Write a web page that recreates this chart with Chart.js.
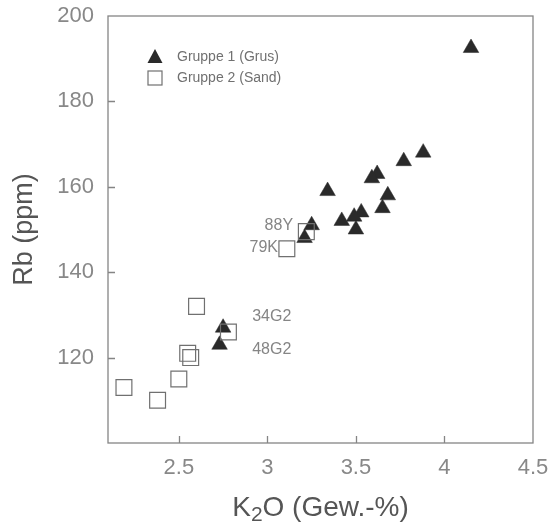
<!DOCTYPE html>
<html>
<head>
<meta charset="utf-8">
<script src="https://cdn.jsdelivr.net/npm/chart.js@4.4.0/dist/chart.umd.min.js"></script>
<style>
  html, body { margin: 0; padding: 0; background: #fff; }
</style>
</head>
<body>
<canvas id="grafico" width="558" height="525"></canvas>
<script>
// Gruppe 1 (Grus) - Dreiecke
const grusK2O = [4.15, 3.88, 3.77, 3.62, 3.59, 3.34, 3.68, 3.65, 3.53, 3.49, 3.42, 3.50, 3.25, 3.21, 2.75, 2.73];
const grusRb  = [192.5, 168, 166, 163, 162, 159, 158, 155, 154, 153, 152, 150, 151, 148, 127, 123];

// Gruppe 2 (Sand) - Quadrate
const sandK2O = [3.22, 3.11, 2.60, 2.78, 2.55, 2.567, 2.50, 2.19, 2.38];
const sandRb  = [149.5, 145.5, 132, 126, 121, 120, 115, 113, 110];

// Probenbezeichnungen
const probeText  = ['88Y', '79K', '34G2', '48G2'];
const probeK2O   = [3.145, 3.06, 2.914, 2.914];
const probeRb    = [150.8, 145.7, 129.6, 121.8];
const probeAlign = ['right', 'right', 'left', 'left'];

const xTicks = [2.5, 3, 3.5, 4, 4.5];
const yTicks = [120, 140, 160, 180, 200];

const legendText = ['Gruppe 1 (Grus)', 'Gruppe 2 (Sand)'];
// titulo eje x en partes para el subindice: K, 2, O (Gew.-%)
const xTitulo = ['K', '2', 'O (Gew.-%)'];

const fuente = 'Liberation Sans, Arial, sans-serif';

function puntos(xs, ys) {
    return xs.map((x, i) => ({ x: x, y: ys[i] }));
}

// marco, ticks hacia adentro, leyenda, etiquetas y titulo x
const marcoPlugin = {
    id: 'marco',
    beforeDatasetsDraw(chart) {
        const { ctx, chartArea: a, scales } = chart;
        ctx.save();
        ctx.strokeStyle = '#858585';
        ctx.lineWidth = 1.3;
        ctx.strokeRect(a.left, a.top, a.right - a.left, a.bottom - a.top);
        ctx.beginPath();
        yTicks.forEach(v => {
            if (v >= scales.y.max) return;
            const py = Math.round(scales.y.getPixelForValue(v)) + 0.5;
            ctx.moveTo(a.left, py);
            ctx.lineTo(a.left + 7, py);
        });
        xTicks.forEach(v => {
            if (v >= scales.x.max) return;
            const px = Math.round(scales.x.getPixelForValue(v)) + 0.5;
            ctx.moveTo(px, a.bottom);
            ctx.lineTo(px, a.bottom - 7);
        });
        ctx.stroke();
        ctx.restore();
    },
    afterDraw(chart) {
        const { ctx, chartArea: a, scales } = chart;
        ctx.save();
        // etiquetas de muestras
        ctx.font = '16px ' + fuente;
        ctx.fillStyle = '#858585';
        ctx.textBaseline = 'middle';
        probeText.forEach((t, i) => {
            ctx.textAlign = probeAlign[i];
            ctx.fillText(t, scales.x.getPixelForValue(probeK2O[i]), scales.y.getPixelForValue(probeRb[i]));
        });
        // leyenda
        const lx = a.left + 47;
        const ly = a.top + 41;
        ctx.fillStyle = '#2a2a2a';
        ctx.beginPath();
        ctx.moveTo(lx, ly - 8);
        ctx.lineTo(lx + 7.5, ly + 6);
        ctx.lineTo(lx - 7.5, ly + 6);
        ctx.closePath();
        ctx.fill();
        ctx.strokeStyle = '#707070';
        ctx.lineWidth = 1.2;
        ctx.strokeRect(lx - 7, ly + 14, 14, 14);
        ctx.font = '14px ' + fuente;
        ctx.fillStyle = '#707070';
        ctx.textAlign = 'left';
        ctx.fillText(legendText[0], lx + 22, ly);
        ctx.fillText(legendText[1], lx + 22, ly + 21);

        // titulo eje x con subindice
        const fGrande = '28px ' + fuente;
        const fChico = '21px ' + fuente;
        ctx.font = fGrande;
        const w1 = ctx.measureText(xTitulo[0]).width;
        const w3 = ctx.measureText(xTitulo[2]).width;
        ctx.font = fChico;
        const w2 = ctx.measureText(xTitulo[1]).width;
        const total = w1 + w2 + w3;
        let tx = (a.left + a.right) / 2 - total / 2;
        const ty = 516;
        ctx.fillStyle = '#555';
        ctx.textBaseline = 'alphabetic';
        ctx.font = fGrande;
        ctx.fillText(xTitulo[0], tx, ty);
        tx += w1;
        ctx.font = fChico;
        ctx.fillText(xTitulo[1], tx, ty + 5);
        tx += w2;
        ctx.font = fGrande;
        ctx.fillText(xTitulo[2], tx, ty);
        ctx.restore();
    }
};

const config = {
    type: 'scatter',
    data: {
        datasets: [
            {
                label: legendText[1],
                data: puntos(sandK2O, sandRb),
                pointStyle: 'rect',
                pointRadius: 11.2,
                pointHoverRadius: 11.2,
                borderColor: '#707070',
                borderWidth: 1.2,
                backgroundColor: 'rgba(0,0,0,0)',
                clip: false
            },
            {
                label: legendText[0],
                data: puntos(grusK2O, grusRb),
                pointStyle: 'triangle',
                pointRadius: 9,
                pointHoverRadius: 9,
                borderColor: '#2a2a2a',
                borderWidth: 0.5,
                backgroundColor: '#2a2a2a',
                clip: false
            }
        ]
    },
    options: {
        responsive: false,
        animation: false,
        layout: { padding: { left: 0, right: 25, top: 16, bottom: 0 } },
        plugins: {
            legend: { display: false },
            tooltip: { enabled: false }
        },
        scales: {
            x: {
                type: 'linear',
                min: 2.1,
                max: 4.5,
                afterBuildTicks: s => { s.ticks = xTicks.map(v => ({ value: v })); },
                afterFit: s => { s.height = 82; s.paddingLeft = 0; s.paddingRight = 0; },
                grid: { display: false, drawTicks: false },
                border: { display: false },
                ticks: {
                    padding: 12,
                    color: '#888',
                    font: { family: fuente, size: 22 },
                    callback: v => String(v)
                },
                title: { display: false }
            },
            y: {
                type: 'linear',
                min: 100,
                max: 200,
                afterBuildTicks: s => { s.ticks = yTicks.map(v => ({ value: v })); },
                afterFit: s => { s.width = 108; s.paddingTop = 0; s.paddingBottom = 0; },
                grid: { display: false, drawTicks: false },
                border: { display: false },
                ticks: {
                    padding: 14,
                    color: '#888',
                    font: { family: fuente, size: 22 }
                },
                title: {
                    display: true,
                    text: 'Rb (ppm)',
                    color: '#555',
                    font: { family: fuente, size: 27 },
                    padding: { top: 8, bottom: 0 }
                }
            }
        }
    },
    plugins: [marcoPlugin]
};

new Chart(document.getElementById('grafico'), config);
</script>
</body>
</html>
